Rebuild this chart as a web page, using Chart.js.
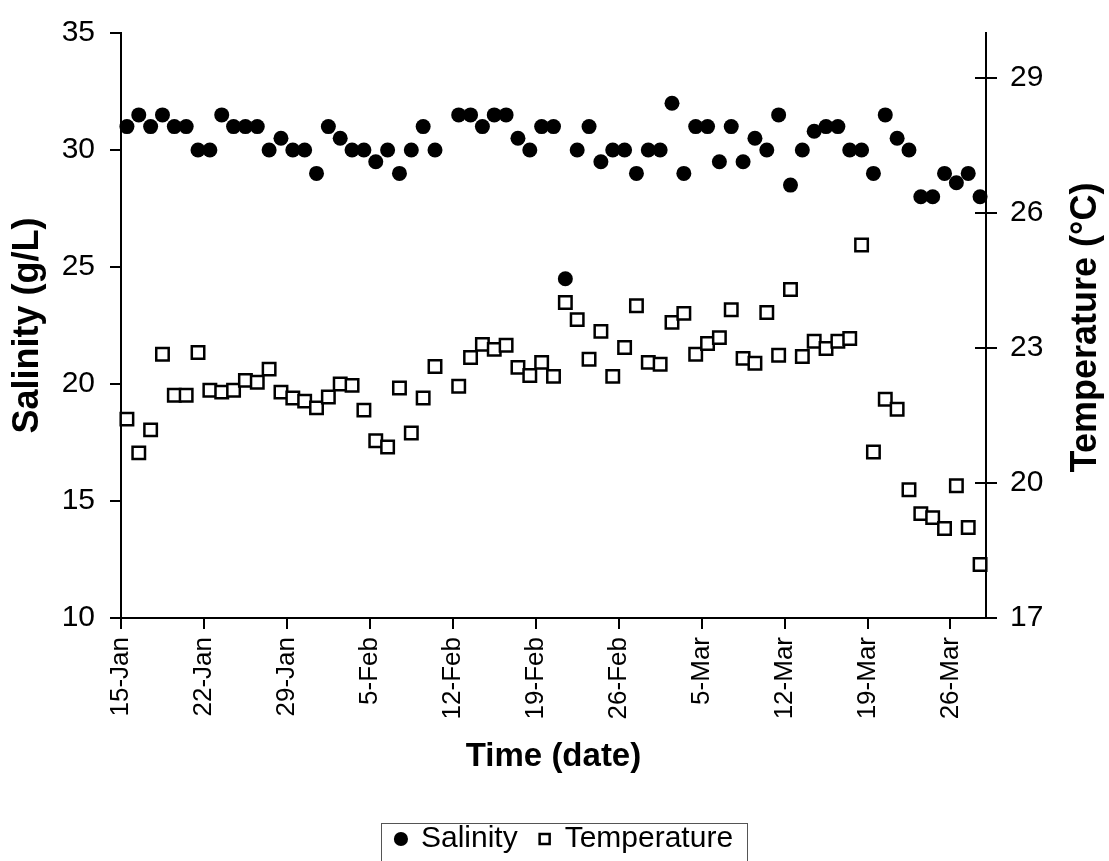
<!DOCTYPE html>
<html>
<head>
<meta charset="utf-8">
<title>Salinity and Temperature</title>
<script src="https://cdn.jsdelivr.net/npm/chart.js@4.4.0/dist/chart.umd.min.js"></script>
<style>
    html, body { margin: 0; padding: 0; background: #fff; }
</style>
</head>
<body>
<canvas id="graficoSalinidade" width="1109" height="861"></canvas>
<script>
// dados (dias contados a partir de 15-Jan, dia 27 sem coleta)
const diasAmostra = [0, 1, 2, 3, 4, 5, 6, 7, 8, 9, 10, 11, 12, 13, 14, 15, 16, 17, 18, 19, 20, 21, 22, 23, 24, 25, 26,
    28, 29, 30, 31, 32, 33, 34, 35, 36, 37, 38, 39, 40, 41, 42, 43, 44, 45, 46, 47, 48, 49, 50, 51, 52, 53, 54,
    55, 56, 57, 58, 59, 60, 61, 62, 63, 64, 65, 66, 67, 68, 69, 70, 71, 72];
const salinidade = [31, 31.5, 31, 31.5, 31, 31, 30, 30, 31.5, 31, 31, 31, 30, 30.5, 30, 30, 29, 31, 30.5, 30, 30, 29.5, 30, 29, 30, 31, 30,
    31.5, 31.5, 31, 31.5, 31.5, 30.5, 30, 31, 31, 24.5, 30, 31, 29.5, 30, 30, 29, 30, 30, 32, 29, 31, 31, 29.5, 31, 29.5, 30.5, 30,
    31.5, 28.5, 30, 30.8, 31, 31, 30, 30, 29, 31.5, 30.5, 30, 28, 28, 29, 28.6, 29, 28];
const temperatura = [21.42, 20.67, 21.18, 22.86, 21.95, 21.95, 22.9, 22.06, 22.02, 22.06, 22.28, 22.24, 22.53, 22.02, 21.89, 21.82,
    21.67, 21.91, 22.2, 22.17, 21.62, 20.94, 20.8, 22.11, 21.11, 21.89, 22.59,
    22.15, 22.79, 23.08, 22.97, 23.06, 22.57, 22.39, 22.68, 22.37, 24.01, 23.63, 22.75, 23.37, 22.37, 23.01, 23.94, 22.68, 22.64,
    23.57, 23.77, 22.86, 23.1, 23.23, 23.85, 22.77, 22.66, 23.79, 22.84, 24.3, 22.81, 23.15, 22.99, 23.15, 23.21, 25.29, 20.69,
    21.86, 21.64, 19.85, 19.32, 19.23, 18.99, 19.94, 19.01, 18.19];
const rotulosDatas = ['15-Jan', '22-Jan', '29-Jan', '5-Feb', '12-Feb', '19-Feb', '26-Feb', '5-Mar', '12-Mar', '19-Mar', '26-Mar'];
const ticksDatas = [0, 7, 14, 21, 28, 35, 42, 49, 56, 63, 70];
const ticksSalinidade = [10, 15, 20, 25, 30, 35];
const ticksTemperatura = [17, 20, 23, 26, 29];

Chart.defaults.font.family = '"Liberation Sans", Arial, sans-serif';
Chart.defaults.color = '#000';

// base da area do grafico (linha do eixo x)
const BASE_AREA = 618;

// cada ponto fica no meio do dia (igual ao eixo de datas do excel)
function montarPontos(valores) {
    return diasAmostra.map((dia, i) => ({ x: dia + 0.5, y: valores[i] }));
}

// plugin: legenda com moldura, tracos cruzados e titulo do eixo da direita
const acabamento = {
    id: 'acabamento',
    afterLayout(chart) {
        const leg = chart.legend;
        leg.left += 10;
        leg.right += 10;
        const alturaLeg = leg.height;
        leg.top = 802;
        leg.bottom = leg.top + alturaLeg;
    },
    afterDraw(chart) {
        const ctx = chart.ctx;
        const eixoDir = chart.scales.y1;
        const area = chart.chartArea;
        ctx.save();
        ctx.strokeStyle = '#000';
        ctx.lineWidth = 2;
        eixoDir.ticks.forEach(t => {
            const y = eixoDir.getPixelForValue(t.value);
            ctx.beginPath();
            ctx.moveTo(area.right - 11, y);
            ctx.lineTo(area.right, y);
            ctx.stroke();
        });
        // moldura da legenda
        const caixas = chart.legend.legendHitBoxes;
        if (caixas && caixas.length) {
            const primeira = caixas[0];
            const ultima = caixas[caixas.length - 1];
            ctx.lineWidth = 1;
            ctx.strokeStyle = '#555';
            ctx.strokeRect(Math.round(primeira.left - 15) + 0.5, 823.5,
                Math.round((ultima.left + ultima.width) - primeira.left + 29), 38);
        }
        ctx.restore();
        // titulo do eixo da direita lido de baixo p/ cima
        ctx.save();
        ctx.translate(1086, (area.top + area.bottom) / 2 + 2);
        ctx.rotate(-Math.PI / 2);
        ctx.font = 'bold 36px "Liberation Sans", Arial, sans-serif';
        ctx.fillStyle = '#000';
        ctx.textAlign = 'center';
        ctx.textBaseline = 'middle';
        ctx.fillText('Temperature (°C)', 0, 0);
        ctx.restore();
    }
};

const contexto = document.getElementById('graficoSalinidade').getContext('2d');
new Chart(contexto, {
    type: 'scatter',
    data: {
        datasets: [
            {
                label: 'Salinity',
                data: montarPontos(salinidade),
                yAxisID: 'y',
                pointStyle: 'circle',
                pointRadius: 7.5,
                pointHoverRadius: 7.5,
                backgroundColor: '#000',
                borderColor: '#000',
                borderWidth: 0,
                clip: false
            },
            {
                label: 'Temperature',
                data: montarPontos(temperatura),
                yAxisID: 'y1',
                pointStyle: 'rect',
                pointRadius: 8.8,
                pointHoverRadius: 8.8,
                backgroundColor: '#fff',
                borderColor: '#000',
                borderWidth: 2.5,
                clip: false
            }
        ]
    },
    options: {
        responsive: false,
        animation: false,
        layout: { padding: { top: 30, left: 0, right: 0, bottom: 0 } },
        plugins: {
            tooltip: { enabled: false },
            legend: {
                position: 'bottom',
                labels: {
                    usePointStyle: true,
                    boxWidth: 10,
                    boxHeight: 10,
                    padding: 22,
                    font: { size: 30 },
                    color: '#000'
                }
            }
        },
        scales: {
            x: {
                type: 'linear',
                min: 0,
                max: 73,
                afterBuildTicks: escala => {
                    escala.ticks = ticksDatas.map(v => ({ value: v }));
                },
                afterFit: escala => {
                    escala.height = 861 - BASE_AREA - escala.chart.legend.height;
                },
                ticks: {
                    autoSkip: false,
                    maxRotation: 90,
                    minRotation: 90,
                    padding: 8,
                    font: { size: 26 },
                    callback: valor => rotulosDatas[ticksDatas.indexOf(valor)]
                },
                grid: { drawOnChartArea: false, tickLength: 11, lineWidth: 2, color: '#000' },
                border: { display: true, color: '#000', width: 2 },
                title: {
                    display: true,
                    text: 'Time (date)',
                    font: { size: 33, weight: 'bold' },
                    padding: { top: 0, bottom: 22 }
                }
            },
            y: {
                position: 'left',
                min: 10,
                max: 35,
                afterBuildTicks: escala => {
                    escala.ticks = ticksSalinidade.map(v => ({ value: v }));
                },
                afterFit: escala => {
                    escala.width = 121;
                },
                ticks: { padding: 15, font: { size: 30 } },
                grid: { drawOnChartArea: false, tickLength: 11, lineWidth: 2, color: '#000' },
                border: { display: true, color: '#000', width: 2 },
                title: {
                    display: true,
                    text: 'Salinity (g/L)',
                    font: { size: 36, weight: 'bold' },
                    padding: { top: 6, bottom: 0 }
                }
            },
            y1: {
                position: 'right',
                min: 17,
                max: 30,
                afterBuildTicks: escala => {
                    escala.ticks = ticksTemperatura.map(v => ({ value: v }));
                },
                afterFit: escala => {
                    escala.width = 123;
                },
                ticks: { padding: 13, font: { size: 30 } },
                grid: { drawOnChartArea: false, tickLength: 11, lineWidth: 2, color: '#000' },
                border: { display: true, color: '#000', width: 2 }
            }
        }
    },
    plugins: [acabamento]
});
</script>
</body>
</html>
